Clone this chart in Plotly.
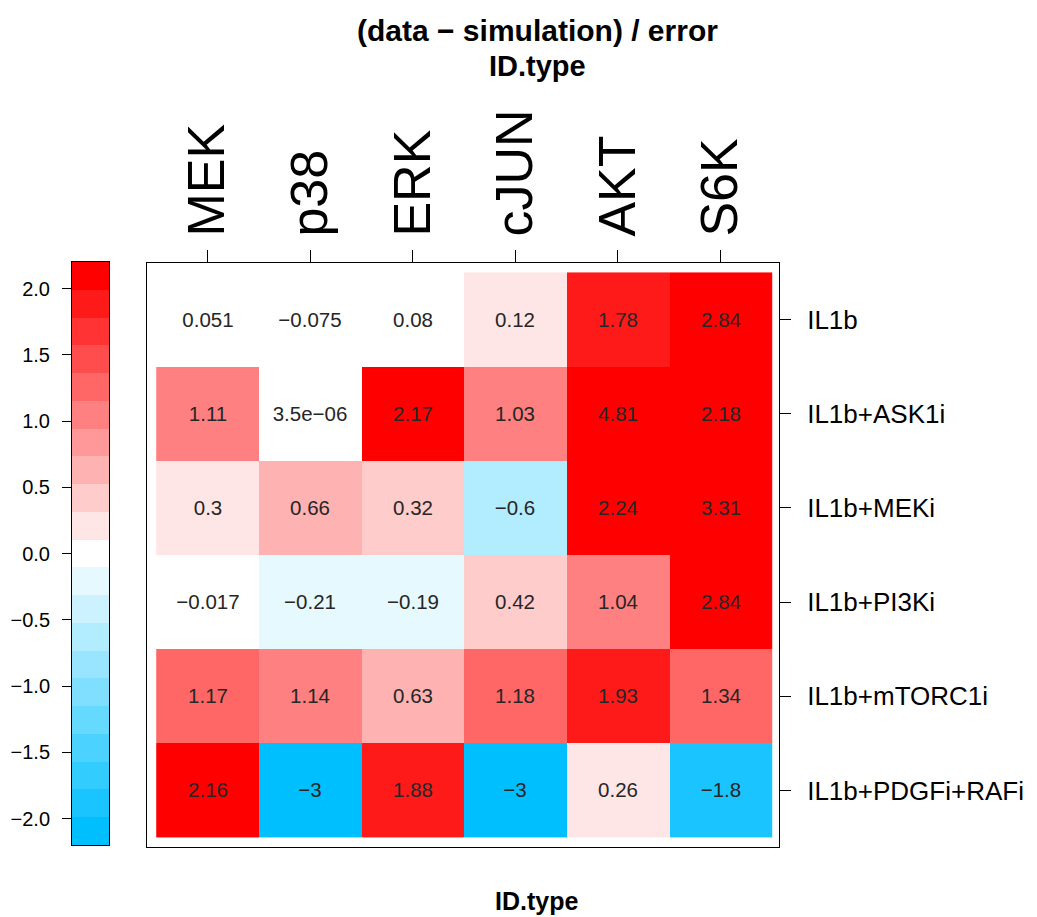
import numpy as np
import plotly.graph_objects as go

# Readouts (columns) and perturbations (rows)
readouts = ["MEK", "p38", "ERK", "cJUN", "AKT", "S6K"]
perturbations = ["IL1b", "IL1b+ASK1i", "IL1b+MEKi", "IL1b+PI3Ki",
                 "IL1b+mTORC1i", "IL1b+PDGFi+RAFi"]

# (data - simulation) / error, one list per perturbation
il1b = [0.051, -0.075, 0.08, 0.12, 1.78, 2.84]
il1b_ask1i = [1.11, 3.5e-06, 2.17, 1.03, 4.81, 2.18]
il1b_meki = [0.3, 0.66, 0.32, -0.6, 2.24, 3.31]
il1b_pi3ki = [-0.017, -0.21, -0.19, 0.42, 1.04, 2.84]
il1b_mtorc1i = [1.17, 1.14, 0.63, 1.18, 1.93, 1.34]
il1b_pdgfi_rafi = [2.16, -3, 1.88, -3, 0.26, -1.8]

colorbar_ticks = [-2.0, -1.5, -1.0, -0.5, 0.0, 0.5, 1.0, 1.5, 2.0]

z = np.array([il1b, il1b_ask1i, il1b_meki, il1b_pi3ki, il1b_mtorc1i, il1b_pdgfi_rafi])


def fmt(v):
    return ("%.3g" % v).replace("-", "\u2212")


labels = [[fmt(v) for v in row] for row in z]

# 21-step diverging palette: deepskyblue -> white -> red
N = 21
blue = np.array([0, 191, 255])
white = np.array([255, 255, 255])
red = np.array([255, 0, 0])
cols = []
for i in range(N):
    if i <= 10:
        c = blue + (white - blue) * (i / 10)
    else:
        c = white + (red - white) * ((i - 10) / 10)
    cols.append("rgb(%d,%d,%d)" % tuple(np.round(c).astype(int)))
colorscale = []
for k, c in enumerate(cols):
    colorscale.append([k / N, c])
    colorscale.append([(k + 1) / N, c])

ZMIN, ZMAX = -2.2, 2.19
edges = np.linspace(-2.2, 2.2, N + 1)
mids = (edges[:-1] + edges[1:]) / 2

W, H = 1037, 917
FONT = "Liberation Sans, Arial, sans-serif"

fig = go.Figure()
fig.add_trace(go.Heatmap(
    z=z, x=list(range(6)), y=list(range(6)),
    text=labels, texttemplate="%{text}",
    textfont=dict(size=20.5, color="#262626", family=FONT),
    colorscale=colorscale, zmin=ZMIN, zmax=ZMAX, showscale=False,
    hoverinfo="skip", xaxis="x", yaxis="y",
))
# colour key strip
fig.add_trace(go.Heatmap(
    z=mids.reshape(-1, 1), x=[0, 1], y=edges,
    colorscale=colorscale, zmin=ZMIN, zmax=ZMAX, showscale=False,
    hoverinfo="skip", xaxis="x2", yaxis="y2",
))

px = lambda v: v / W
py = lambda v: 1 - v / H

fig.update_layout(
    width=W, height=H, margin=dict(l=0, r=0, t=0, b=0),
    paper_bgcolor="white", plot_bgcolor="white",
    font=dict(family=FONT, color="black"),
    xaxis=dict(domain=[px(147), px(779)], range=[-0.59, 5.57], side="top",
               tickmode="array", tickvals=list(range(6)), ticktext=readouts,
               tickangle=-90, ticks="outside", ticklen=12, tickcolor="black",
               tickfont=dict(size=52, color="black"), ticklabelstandoff=3,
               showline=True, mirror=True, linecolor="black", linewidth=1,
               showgrid=False, zeroline=False, anchor="y"),
    yaxis=dict(domain=[py(847), py(263)], range=[5.6, -0.6], side="right",
               tickmode="array", tickvals=list(range(6)), ticktext=perturbations,
               ticks="outside", ticklen=11, tickcolor="black",
               tickfont=dict(size=26, color="black"), ticklabelstandoff=11,
               showline=True, mirror=True, linecolor="black", linewidth=1,
               showgrid=False, zeroline=False, anchor="x"),
    xaxis2=dict(domain=[px(72), px(109)], range=[0, 1], showticklabels=False,
                ticks="", showline=True, mirror=True, linecolor="black",
                showgrid=False, zeroline=False, anchor="y2"),
    yaxis2=dict(domain=[py(845), py(262)], range=[-2.2, 2.2], side="left",
                tickmode="array", tickvals=colorbar_ticks,
                ticktext=[("%.1f" % t).replace("-", "\u2212") for t in colorbar_ticks],
                ticks="outside", ticklen=9, tickcolor="black",
                tickfont=dict(size=20, color="black"), ticklabelstandoff=8,
                showline=True, mirror=True, linecolor="black",
                showgrid=False, zeroline=False, anchor="x2"),
    annotations=[
        dict(text="<b>(data \u2212 simulation) / error</b>", x=px(537), y=py(30),
             xref="paper", yref="paper", showarrow=False,
             font=dict(size=30, color="black"), xanchor="center", yanchor="middle"),
        dict(text="<b>ID.type</b>", x=px(537), y=py(66),
             xref="paper", yref="paper", showarrow=False,
             font=dict(size=29, color="black"), xanchor="center", yanchor="middle"),
        dict(text="<b>ID.type</b>", x=px(536), y=0,
             xref="paper", yref="paper", showarrow=False,
             font=dict(size=25, color="black"), xanchor="center", yanchor="bottom"),
    ],
)

fig.write_html("out.html")
